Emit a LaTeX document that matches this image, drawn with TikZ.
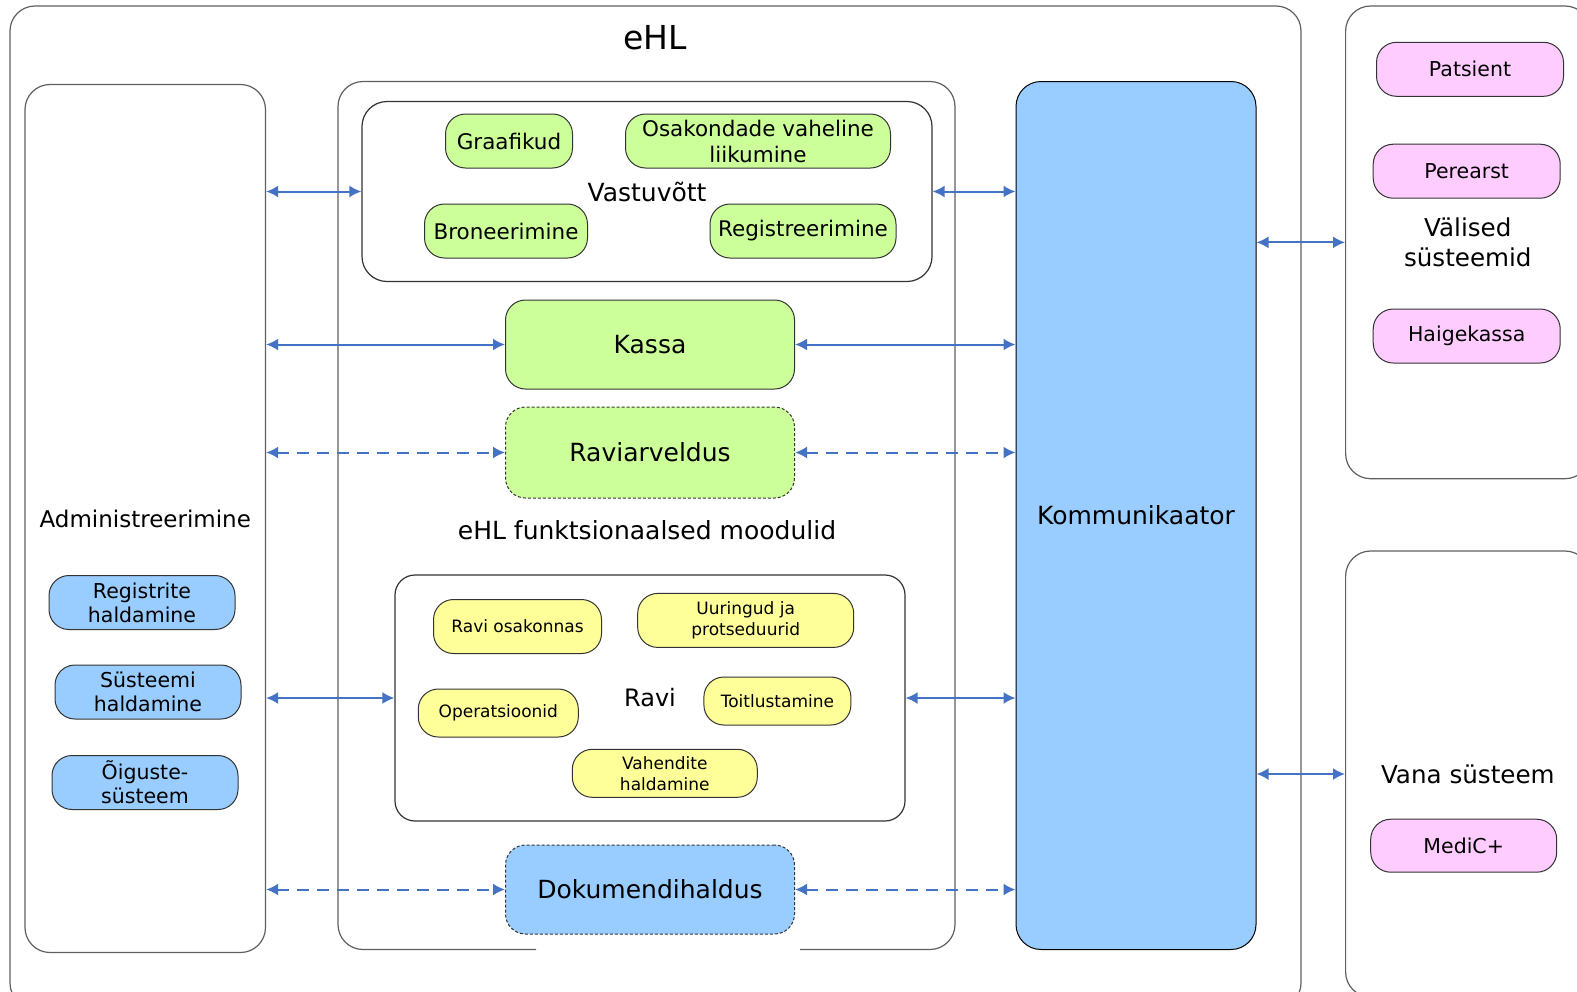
\documentclass[tikz,border=0pt]{standalone}
\usepackage{fontspec}
\setmainfont{DejaVu Sans}
\usepackage{xcolor}
\usetikzlibrary{arrows.meta,positioning}
\definecolor{modgreen}{HTML}{CCFF99}
\definecolor{modyellow}{HTML}{FFFF99}
\definecolor{modblue}{HTML}{99CCFF}
\definecolor{modpink}{HTML}{FFCCFF}
\definecolor{linkblue}{HTML}{4472C4}
\definecolor{framegray}{HTML}{5F5F5F}

\begin{document}
\begin{tikzpicture}[x=0.5pt,y=-0.5pt,>={Latex[length=6pt,width=6pt]},line join=round]
\tikzstyle{group}=[draw=framegray, line width=0.6pt, rounded corners=12.5pt, align=center, inner sep=0pt]
\tikzstyle{mod}=[draw=black!80, line width=0.5pt, rounded corners=10pt, align=center, inner sep=0pt]
\tikzstyle{small}=[mod, font=\fontsize{10.25pt}{12pt}\selectfont, minimum width=93pt, minimum height=27pt]
\tikzstyle{big}=[font=\fontsize{12.5pt}{15pt}\selectfont]
\tikzstyle{link}=[<->, draw=linkblue, line width=1pt]
\tikzstyle{maybe}=[dash pattern=on 6pt off 4pt]
\useasboundingbox (0,0) rectangle (1577,991);
\clip (0,0) rectangle (1577,991);

\draw[group] (10,6) rectangle (1301,1008);
\node[font=\fontsize{16.5pt}{19pt}\selectfont] (ehl) at (655,38) {eHL};

\node[group, big, font=\fontsize{11.5pt}{14pt}\selectfont, minimum width=120.25pt, minimum height=434pt] (adm) at (145.25,518.5) {Administreerimine};
\node[small, fill=modblue] (reg) at (142,602.5) {Registrite\\haldamine};
\node[small, fill=modblue] (sys) at (148,692) {Süsteemi\\haldamine};
\node[small, fill=modblue] (oig) at (145,782.5) {Õiguste-\\süsteem};

\draw[group] (536,949.5) -- (338,949.5) -- (338,81.5) -- (955,81.5) -- (955,949.5) -- (800,949.5);
\node[big] (moodulid) at (647,530) {eHL funktsionaalsed moodulid};

\node[group, big, draw=black!80, minimum width=285pt, minimum height=90pt] (vast) at (647,191.5) {Vastuvõtt};
\tikzstyle{green}=[mod, fill=modgreen, font=\fontsize{10.75pt}{13pt}\selectfont, minimum height=27pt]
\node[green, minimum width=63.5pt] (graf) at (509,141) {Graafikud};
\node[green, minimum width=132.5pt] (osak) at (758,141) {Osakondade vaheline\\liikumine};
\node[green, minimum width=81.5pt] (bron) at (506,231) {Broneerimine};
\node[green, minimum width=93pt] (regi) at (803,231) {Registreerimine};

\node[mod, big, fill=modgreen, minimum width=144.5pt, minimum height=44.5pt] (kassa) at (650,344.5) {Kassa};
\node[mod, big, fill=modgreen, dash pattern=on 1.5pt off 1pt, minimum width=144.5pt, minimum height=45.5pt] (rav) at (650,452.5) {Raviarveldus};

\node[group, draw=black!80, font=\fontsize{12pt}{14pt}\selectfont, rounded corners=10pt, minimum width=255pt, minimum height=123pt] (ravi) at (650,698) {Ravi};
\tikzstyle{yellow}=[mod, fill=modyellow, font=\fontsize{8.5pt}{10.5pt}\selectfont]
\node[yellow, minimum width=84pt, minimum height=27pt] (ravos) at (517.5,626.5) {Ravi osakonnas};
\node[yellow, minimum width=108pt, minimum height=27pt] (uur) at (745.7,620.4) {Uuringud ja\\protseduurid};
\node[yellow, minimum width=80pt, minimum height=24pt] (oper) at (498.3,713) {Operatsioonid};
\node[yellow, minimum width=73.5pt, minimum height=24pt] (toit) at (777.4,701) {Toitlustamine};
\node[yellow, minimum width=92.5pt, minimum height=24pt] (vahe) at (664.8,773.3) {Vahendite\\haldamine};

\node[mod, big, fill=modblue, dash pattern=on 1.5pt off 1pt, minimum width=144.5pt, minimum height=44.5pt] (dok) at (650,889.5) {Dokumendihaldus};

\node[mod, big, fill=modblue, draw=black, rounded corners=12.5pt, minimum width=120pt, minimum height=434pt] (komm) at (1136,515.5) {Kommunikaator};

\node[group, font=\fontsize{12.3pt}{15pt}\selectfont, minimum width=122.2pt, minimum height=236.35pt] (val) at (1467.8,242.35) {Välised\\süsteemid};
\node[small, fill=modpink, minimum width=93.5pt] (pats) at (1470,69.3) {Patsient};
\node[small, fill=modpink, minimum width=93.5pt] (pere) at (1466.7,171.2) {Perearst};
\node[small, fill=modpink, minimum width=93.5pt] (haig) at (1466.7,336) {Haigekassa};
\node[group, font=\fontsize{12.3pt}{15pt}\selectfont, minimum width=122.2pt, minimum height=223pt] (vana) at (1467.8,774) {Vana süsteem};
\node[small, fill=modpink, minimum height=26.5pt] (medic) at (1463.7,845.7) {MediC+};

\draw[link] (adm.east |- vast.west) -- (vast.west);
\draw[link] (vast.east) -- (vast.east -| komm.west);
\draw[link] (adm.east |- kassa.west) -- (kassa.west);
\draw[link] (kassa.east) -- (kassa.east -| komm.west);
\draw[link, maybe] (adm.east |- rav.west) -- (rav.west);
\draw[link, maybe] (rav.east) -- (rav.east -| komm.west);
\draw[link] (adm.east |- ravi.west) -- (ravi.west);
\draw[link] (ravi.east) -- (ravi.east -| komm.west);
\draw[link, maybe] (adm.east |- dok.west) -- (dok.west);
\draw[link, maybe] (dok.east) -- (dok.east -| komm.west);
\draw[link] (komm.east |- val.west) -- (val.west);
\draw[link] (komm.east |- vana.west) -- (vana.west);
\end{tikzpicture}
\end{document}
